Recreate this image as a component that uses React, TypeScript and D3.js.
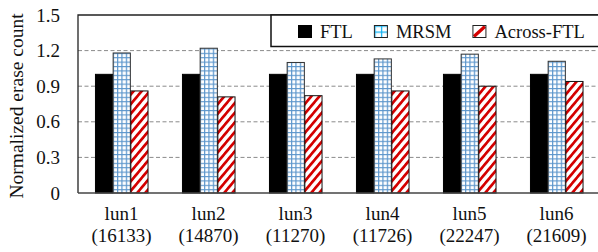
import { useEffect, useRef } from "react";
import * as d3 from "d3";

const categories = ["lun1", "lun2", "lun3", "lun4", "lun5", "lun6"];
const counts = ["16133", "14870", "11270", "11726", "22247", "21609"];
const seriesNames = ["FTL", "MRSM", "Across-FTL"];
const ftlValues = [1.0, 1.0, 1.0, 1.0, 1.0, 1.0];
const mrsmValues = [1.18, 1.22, 1.1, 1.13, 1.17, 1.11];
const acrossValues = [0.86, 0.81, 0.82, 0.86, 0.9, 0.94];
const yTicks = [0, 0.3, 0.6, 0.9, 1.2, 1.5];

const W = 598;
const H = 252;
const FONT = '"Times New Roman", Times, "Liberation Serif", serif';

export default function App() {
  const svgRef = useRef<SVGSVGElement>(null);

  useEffect(() => {
    if (!svgRef.current) return;
    const svg = d3.select(svgRef.current);
    svg.selectAll("*").remove();

    const margin = { top: 15, left: 78, bottom: 59, right: -2 };
    const rows = categories.map((c, i) => ({
      cat: c,
      count: counts[i],
      values: [ftlValues[i], mrsmValues[i], acrossValues[i]],
    }));

    const x0 = d3
      .scaleBand<string>()
      .domain(categories)
      .range([margin.left, W - margin.right])
      .paddingInner(0.39)
      .paddingOuter(0.195);
    const x1 = d3
      .scaleBand<string>()
      .domain(seriesNames)
      .range([0, x0.bandwidth()]);
    const y = d3
      .scaleLinear()
      .domain([0, 1.5])
      .range([H - margin.bottom, margin.top]);

    // 패턴 정의
    const defs = svg.append("defs");
    const grid = defs
      .append("pattern")
      .attr("id", "mrsmGrid")
      .attr("patternUnits", "userSpaceOnUse")
      .attr("width", 4.4)
      .attr("height", 4.4);
    grid.append("rect").attr("width", 4.4).attr("height", 4.4).attr("fill", "#fff");
    grid
      .append("path")
      .attr("d", "M0.6,0V4.4M0,0.6H4.4")
      .attr("stroke", "#5b95cb")
      .attr("stroke-width", 1.2);

    const gridLegend = defs
      .append("pattern")
      .attr("id", "mrsmLegend")
      .attr("patternUnits", "userSpaceOnUse")
      .attr("width", 6.5)
      .attr("height", 6)
      .attr("x", 0.5)
      .attr("y", 0.5);
    gridLegend.append("rect").attr("width", 6.5).attr("height", 6).attr("fill", "#fff");
    gridLegend
      .append("path")
      .attr("d", "M0.6,0V6M0,0.6H6.5")
      .attr("stroke", "#10b0f0")
      .attr("stroke-width", 1.3);

    const hatch = defs
      .append("pattern")
      .attr("id", "acrossHatch")
      .attr("patternUnits", "userSpaceOnUse")
      .attr("width", 6.2)
      .attr("height", 6.2)
      .attr("patternTransform", "rotate(40)");
    hatch.append("rect").attr("width", 6.2).attr("height", 6.2).attr("fill", "#fff");
    hatch
      .append("rect")
      .attr("width", 2.7)
      .attr("height", 6.2)
      .attr("fill", "#d40000");

    const fills = ["#000", "url(#mrsmGrid)", "url(#acrossHatch)"];
    const strokes = ["#000", "#333", "#111"];

    // 그리드선
    svg
      .append("g")
      .selectAll("line")
      .data(yTicks.filter((t) => t > 0 && t < 1.5))
      .enter()
      .append("line")
      .attr("x1", margin.left)
      .attr("x2", W)
      .attr("y1", (d) => y(d))
      .attr("y2", (d) => y(d))
      .attr("stroke", "#8a8a8a")
      .attr("stroke-width", 1)
      .attr("stroke-dasharray", "4,2.5");

    // 막대
    const groups = svg
      .append("g")
      .selectAll("g")
      .data(rows)
      .enter()
      .append("g")
      .attr("transform", (d) => `translate(${x0(d.cat)},0)`);
    groups
      .selectAll("rect")
      .data((d) => d.values.map((v, j) => ({ v, j })))
      .enter()
      .append("rect")
      .attr("x", (d) => (x1(seriesNames[d.j]) ?? 0) + 0.5)
      .attr("y", (d) => y(d.v))
      .attr("width", x1.bandwidth() - 0.5)
      .attr("height", (d) => y(0) - y(d.v))
      .attr("fill", (d) => fills[d.j])
      .attr("stroke", (d) => strokes[d.j])
      .attr("stroke-width", 1);

    // 프레임
    svg
      .append("path")
      .attr("d", `M${W},${margin.top}H${margin.left}V${y(0)}`)
      .attr("fill", "none")
      .attr("stroke", "#222")
      .attr("stroke-width", 1.3);
    svg
      .append("line")
      .attr("x1", margin.left)
      .attr("x2", W)
      .attr("y1", y(0))
      .attr("y2", y(0))
      .attr("stroke", "#444")
      .attr("stroke-width", 1.6);

    // y축
    const yAxis = d3
      .axisLeft(y)
      .tickValues(yTicks)
      .tickSize(0)
      .tickPadding(18)
      .tickFormat((d) => (+d === 0 ? "0" : d3.format(".1f")(+d)));
    const ya = svg
      .append("g")
      .attr("transform", `translate(${margin.left},0)`)
      .call(yAxis);
    ya.select(".domain").remove();
    ya.attr("font-family", FONT).attr("font-size", 19);
    ya.selectAll("text")
      .style("font-family", FONT)
      .style("font-size", "19px")
      .attr("fill", "#111");

    svg
      .append("text")
      .attr("transform", `translate(23,${(12 + 200) / 2}) rotate(-90)`)
      .attr("text-anchor", "middle")
      .style("font-family", FONT)
      .style("font-size", "19.5px")
      .attr("fill", "#111")
      .text("Normalized erase count");

    // x축 라벨
    const labels = svg.append("g");
    labels
      .selectAll("text.cat")
      .data(rows)
      .enter()
      .append("text")
      .attr("class", "cat")
      .attr("x", (d) => (x0(d.cat) ?? 0) + x0.bandwidth() / 2)
      .attr("y", 220)
      .attr("text-anchor", "middle")
      .style("font-family", FONT)
      .style("font-size", "19px")
      .attr("fill", "#111")
      .text((d) => d.cat);
    labels
      .selectAll("text.cnt")
      .data(rows)
      .enter()
      .append("text")
      .attr("class", "cnt")
      .attr("x", (d) => (x0(d.cat) ?? 0) + x0.bandwidth() / 2)
      .attr("y", 242)
      .attr("text-anchor", "middle")
      .style("font-family", FONT)
      .style("font-size", "19px")
      .attr("fill", "#111")
      .text((d) => `(${d.count})`);

    // 범례
    const legend = svg.append("g");
    legend
      .append("rect")
      .attr("x", 271)
      .attr("y", margin.top)
      .attr("width", W + 5 - 271)
      .attr("height", 31.5)
      .attr("fill", "#fff")
      .attr("stroke", "#111")
      .attr("stroke-width", 1.5);
    let lx = 298;
    seriesNames.forEach((name, j) => {
      const item = legend.append("g").attr("transform", `translate(${lx},25)`);
      if (j === 0) {
        item.append("rect").attr("width", 14).attr("height", 13).attr("fill", "#000");
      } else if (j === 1) {
        item
          .append("rect")
          .attr("x", 0.5)
          .attr("y", 0.5)
          .attr("width", 13)
          .attr("height", 12)
          .attr("fill", "url(#mrsmLegend)")
          .attr("stroke", "#222")
          .attr("stroke-width", 1);
      } else {
        item
          .append("rect")
          .attr("x", 0.5)
          .attr("y", 0.5)
          .attr("width", 13)
          .attr("height", 12)
          .attr("fill", "#fff");
        item
          .append("line")
          .attr("x1", 1.5)
          .attr("y1", 11.5)
          .attr("x2", 12.5)
          .attr("y2", 1.5)
          .attr("stroke", "#d40000")
          .attr("stroke-width", 3.2);
        item
          .append("rect")
          .attr("x", 0.5)
          .attr("y", 0.5)
          .attr("width", 13)
          .attr("height", 12)
          .attr("fill", "none")
          .attr("stroke", "#222")
          .attr("stroke-width", 1);
      }
      const t = item
        .append("text")
        .attr("x", 22)
        .attr("y", 12.8)
        .style("font-family", FONT)
        .style("font-size", "18.5px")
        .attr("fill", "#111")
        .text(name);
      const tw = (t.node() as SVGTextElement).getComputedTextLength();
      lx += 22 + tw + 21;
    });
  }, []);

  return (
    <svg
      ref={svgRef}
      width={W}
      height={H}
      style={{ position: "absolute", left: 0, top: 0, background: "#fff" }}
    />
  );
}
